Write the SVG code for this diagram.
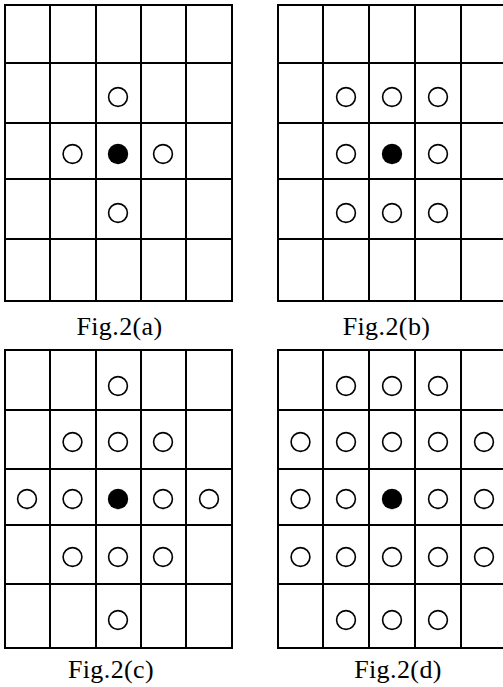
<svg xmlns="http://www.w3.org/2000/svg" xmlns:xlink="http://www.w3.org/1999/xlink" width="503" height="687" viewBox="0 0 503 687">
<style>
.grid{fill:none;stroke:#000;stroke-width:2;stroke-linecap:square}
.o{fill:#fff;stroke:#000;stroke-width:1.6}
.f{fill:#000;stroke:none}
.lbl{font-family:"Liberation Serif","Times New Roman",serif;font-size:26px;letter-spacing:0.4px;fill:#000;text-anchor:middle}
</style>
<defs>
<circle id="oc" r="9.4" class="o"/>
<circle id="fc" r="10.2" class="f"/>
</defs>
<rect width="503" height="687" fill="#fff"/>
<g id="fig2a">
<path class="grid" d="M5,5H232V301H5Z M50,5V301 M96,5V301 M141,5V301 M186,5V301 M5,63H232 M5,123H232 M5,179H232 M5,239H232"/>
<use xlink:href="#oc" x="118" y="97"/>
<use xlink:href="#oc" x="72.5" y="154"/>
<use xlink:href="#fc" x="118" y="154"/>
<use xlink:href="#oc" x="163" y="154"/>
<use xlink:href="#oc" x="118" y="213"/>
<text class="lbl" x="119.5" y="335">Fig.2(a)</text>
</g>
<g id="fig2b">
<path class="grid" d="M507,5H278V301H507 M323,5V301 M369,5V301 M415,5V301 M461,5V301 M278,63H507 M278,123H507 M278,179H507 M278,239H507"/>
<use xlink:href="#oc" x="346" y="97"/>
<use xlink:href="#oc" x="392" y="97"/>
<use xlink:href="#oc" x="438" y="97"/>
<use xlink:href="#oc" x="346" y="154"/>
<use xlink:href="#fc" x="392" y="154"/>
<use xlink:href="#oc" x="438" y="154"/>
<use xlink:href="#oc" x="346" y="213"/>
<use xlink:href="#oc" x="392" y="213"/>
<use xlink:href="#oc" x="438" y="213"/>
<text class="lbl" x="386.5" y="335">Fig.2(b)</text>
</g>
<g id="fig2c">
<path class="grid" d="M5,350H232V648H5Z M50,350V648 M96,350V648 M141,350V648 M186,350V648 M5,410H232 M5,469H232 M5,525H232 M5,584H232"/>
<use xlink:href="#oc" x="118" y="386"/>
<use xlink:href="#oc" x="72.5" y="442"/>
<use xlink:href="#oc" x="118" y="442"/>
<use xlink:href="#oc" x="163" y="442"/>
<use xlink:href="#oc" x="27" y="499"/>
<use xlink:href="#oc" x="72.5" y="499"/>
<use xlink:href="#fc" x="118" y="499"/>
<use xlink:href="#oc" x="163" y="499"/>
<use xlink:href="#oc" x="209" y="499"/>
<use xlink:href="#oc" x="72.5" y="557"/>
<use xlink:href="#oc" x="118" y="557"/>
<use xlink:href="#oc" x="163" y="557"/>
<use xlink:href="#oc" x="118" y="620"/>
<text class="lbl" x="111" y="678">Fig.2(c)</text>
</g>
<g id="fig2d">
<path class="grid" d="M507,350H278V648H507 M323,350V648 M369,350V648 M415,350V648 M461,350V648 M278,410H507 M278,469H507 M278,525H507 M278,584H507"/>
<use xlink:href="#oc" x="346" y="386"/>
<use xlink:href="#oc" x="392" y="386"/>
<use xlink:href="#oc" x="438" y="386"/>
<use xlink:href="#oc" x="300.5" y="442"/>
<use xlink:href="#oc" x="346" y="442"/>
<use xlink:href="#oc" x="392" y="442"/>
<use xlink:href="#oc" x="438" y="442"/>
<use xlink:href="#oc" x="484" y="442"/>
<use xlink:href="#oc" x="300.5" y="499"/>
<use xlink:href="#oc" x="346" y="499"/>
<use xlink:href="#fc" x="392" y="499"/>
<use xlink:href="#oc" x="438" y="499"/>
<use xlink:href="#oc" x="484" y="499"/>
<use xlink:href="#oc" x="300.5" y="557"/>
<use xlink:href="#oc" x="346" y="557"/>
<use xlink:href="#oc" x="392" y="557"/>
<use xlink:href="#oc" x="438" y="557"/>
<use xlink:href="#oc" x="484" y="557"/>
<use xlink:href="#oc" x="346" y="620"/>
<use xlink:href="#oc" x="392" y="620"/>
<use xlink:href="#oc" x="438" y="620"/>
<text class="lbl" x="398" y="678">Fig.2(d)</text>
</g>
</svg>
